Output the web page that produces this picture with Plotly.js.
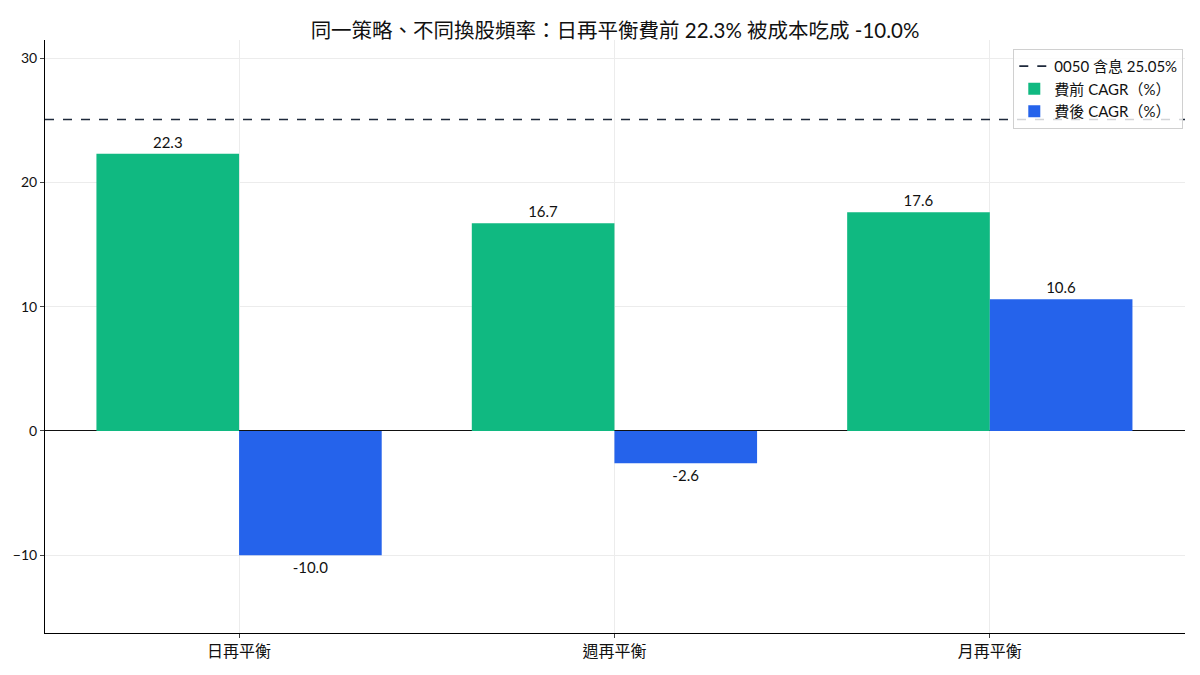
<!DOCTYPE html>
<html>
<head>
<meta charset="utf-8">
<script src="https://cdn.plot.ly/plotly-3.0.1.min.js"></script>
<style>
   body { margin: 0; background: #fff; }
   #canvas { width: 1200px; height: 675px; }
</style>
</head>
<body>
<div id="canvas"></div>
<script>

const categories = ['日再平衡', '週再平衡', '月再平衡'];
const preFee = [22.3, 16.7, 17.6];
const postFee = [-10.0, -2.6, 10.6];
const benchmark = 25.05;
const benchmarkName = '0050 含息 25.05%';
const titleText = '同一策略、不同換股頻率：日再平衡費前 22.3% 被成本吃成 -10.0%';

const FONT = 'Lato, "Noto Sans CJK TC", sans-serif';

var traces = [{
   name: '費前 CAGR（%）',
   type: 'bar',
   x: [0, 1, 2],
   y: preFee,
   marker: { color: '#10b981' },
   text: preFee.map(v => v.toFixed(1)),
   textposition: 'outside',
   cliponaxis: false,
   textfont: { size: 15, color: '#111' },
   legendrank: 2,
}, {
   name: '費後 CAGR（%）',
   type: 'bar',
   x: [0, 1, 2],
   y: postFee,
   marker: { color: '#2563eb' },
   text: postFee.map(v => v.toFixed(1)),
   textposition: 'outside',
   cliponaxis: false,
   textfont: { size: 15, color: '#111' },
   legendrank: 3,
}];

const layout = {
   width: 1200,
   height: 675,
   margin: { t: 40, b: 42, l: 45, r: 15 },
   paper_bgcolor: '#fff',
   plot_bgcolor: '#fff',
   font: { family: FONT, size: 13, color: '#111' },
   title: { text: titleText, x: 0.5125, xanchor: 'center', y: 0.965, font: { size: 20.5, color: '#111' } },
   barmode: 'group',
   bargap: 0.24,
   bargroupgap: 0,
   xaxis: {
      range: [-0.517, 2.52],
      tickvals: [0, 1, 2],
      ticktext: categories,
      showgrid: true,
      gridcolor: '#ececec',
      showline: true,
      linecolor: '#000',
      ticks: 'outside',
      ticklen: 4,
      tickfont: { size: 16 },
      zeroline: false,
   },
   yaxis: {
      range: [-16.25, 31.45],
      tickvals: [-10, 0, 10, 20, 30],
      showgrid: true,
      gridcolor: '#ececec',
      showline: true,
      linecolor: '#000',
      ticks: 'outside',
      ticklen: 4,
      tickfont: { size: 14 },
      zeroline: true,
      zerolinecolor: '#111',
      zerolinewidth: 1,
   },
   shapes: [{
      type: 'line',
      xref: 'paper', yref: 'y',
      x0: 0, x1: 1, y0: benchmark, y1: benchmark,
      line: { color: '#1e293b', width: 1.6, dash: 'dash' },
      showlegend: true,
      name: benchmarkName,
      legendrank: 1,
   }],
   legend: {
      x: 0.9985, y: 0.985, xanchor: 'right', yanchor: 'top',
      bgcolor: 'rgba(255,255,255,0.8)',
      bordercolor: '#d0d0d0',
      borderwidth: 1,
      font: { size: 15 },
      traceorder: 'normal',
      tracegroupgap: 2,
   },
   showlegend: true,
};

Plotly.newPlot('canvas', traces, layout, { staticPlot: true });

</script>
</body>
</html>
